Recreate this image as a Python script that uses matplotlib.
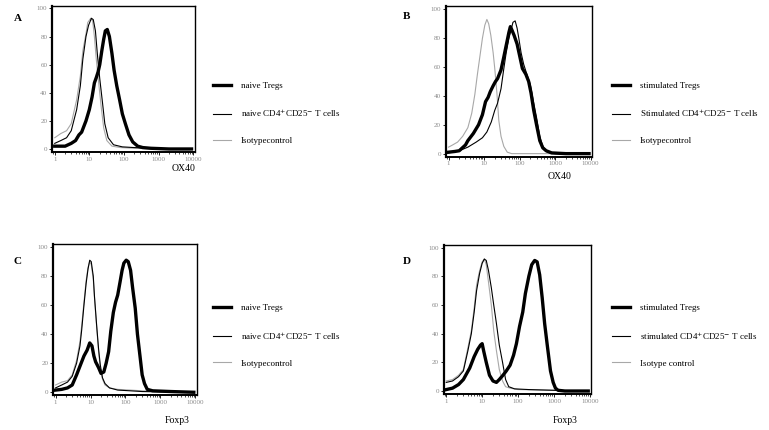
import matplotlib
matplotlib.use("Agg")
import matplotlib.pyplot as plt
import numpy as np

plt.rcParams['font.family'] = ['Liberation Serif', 'DejaVu Serif']

# ---- panel A: OX40, naive cells ----
a_iso_x = [1, 1.5, 2.2, 3, 4.3, 5.5, 6.5, 8, 9, 11, 12.5, 14, 16, 19, 22, 26, 32, 45, 80, 200, 1000, 9000]
a_iso_y = [8, 11, 13, 18, 35, 52, 70, 82, 90, 93, 91, 80, 63, 45, 30, 15, 6, 2, 1, 0.5, 0, 0]
a_cd4_x = [1, 1.5, 2.2, 3, 4.3, 5.5, 6.5, 8, 9.5, 11.5, 13, 15, 17, 20, 24, 28, 35, 50, 90, 200, 1000, 9000]
a_cd4_y = [4, 6, 8, 13, 28, 45, 64, 80, 88, 93, 92, 84, 68, 50, 33, 18, 8, 3, 1.5, 1, 0.3, 0]
a_treg_x = [1, 1.5, 2, 3, 4, 5, 6, 8, 10, 12, 14, 16, 18, 20, 23, 26, 29, 33, 38, 45, 52, 62, 75, 90, 110, 140, 180, 250, 350, 600, 2000, 9000]
a_treg_y = [2, 2, 2, 4, 6, 10, 12, 20, 28, 37, 47, 51, 55, 60, 70, 78, 84, 85, 80, 68, 56, 45, 35, 25, 18, 10, 5, 2, 1, 0.5, 0, 0]

# ---- panel B: OX40, stimulated cells ----
b_iso_x = [1, 1.3, 1.8, 2.5, 3.5, 4.5, 5.5, 6.5, 7.5, 9, 10.5, 12, 13.5, 15.5, 18, 20, 23, 26, 30, 36, 45, 60, 100, 1000, 9000]
b_iso_y = [4.5, 6, 8, 12, 18, 28, 41, 55, 66, 80, 89, 93, 90, 82, 70, 59, 42, 23, 12, 5, 1, 0, 0, 0, 0]
b_treg_x = [1, 1.5, 2, 3, 3.5, 5, 7, 9, 11, 13, 15, 18, 21, 24, 30, 36, 42, 50, 55, 60, 70, 85, 100, 120, 150, 180, 210, 250, 300, 370, 450, 560, 800, 2000, 9000]
b_treg_y = [1, 1.5, 2, 6, 9, 14, 20, 27, 36, 39, 43, 47, 50, 52, 58, 67, 75, 84, 88, 86, 82, 76, 68, 59, 55, 50, 42, 30, 20, 9, 4, 2, 0.5, 0, 0]
b_cd4_x = [1, 2, 3.5, 6, 9, 12, 16, 20, 24, 30, 36, 42, 50, 58, 65, 75, 85, 95, 110, 130, 160, 200, 250, 300, 370, 450, 600, 1000, 9000]
b_cd4_y = [0.5, 2, 4.5, 8, 11, 15, 22, 30, 35, 45, 59, 70, 80, 86, 91, 92, 87, 80, 70, 62, 55, 48, 35, 25, 12, 5, 1, 0, 0]

# ---- panel C: Foxp3, naive cells ----
c_iso_x = [1, 1.5, 2.2, 3, 4, 5, 5.6, 6.5, 7.5, 8.5, 9.5, 10.5, 12, 13, 15, 17, 19, 22, 26, 35, 60, 140, 300, 1000, 9000]
c_iso_y = [5, 7, 8, 12, 22, 35, 46, 62, 77, 86, 90, 88, 78, 65, 45, 28, 17, 9, 5, 3, 2, 1.5, 1, 0.5, 0]
c_cd4_x = [1, 1.5, 2.2, 3, 4, 5, 5.6, 6.5, 7.5, 8.5, 9.5, 10.5, 12, 13, 15, 17, 19, 22, 26, 35, 60, 140, 300, 1000, 9000]
c_cd4_y = [3, 5, 7, 11, 20, 32, 43, 60, 75, 85, 91, 90, 80, 66, 46, 30, 19, 10, 6, 3, 1.5, 1, 0.5, 0.3, 0]
c_treg_x = [1, 1.5, 2.2, 3, 4, 5, 6.5, 8, 9.5, 11, 12.5, 14, 17, 20, 24, 28, 33, 38, 45, 52, 60, 70, 80, 90, 105, 120, 140, 160, 190, 220, 260, 300, 350, 420, 600, 2000, 9000]
c_treg_y = [1.5, 2, 3, 5, 12, 18, 25, 29, 34, 32, 25, 21, 17, 13, 14, 20, 28, 42, 55, 62, 67, 76, 84, 89, 91, 90, 84, 72, 58, 40, 25, 12, 6, 2, 1, 0.5, 0]

# ---- panel D: Foxp3, stimulated cells ----
d_iso_x = [1, 1.5, 2.2, 3, 4, 5, 6, 7, 8.5, 10, 11.5, 13, 15, 18, 21, 25, 30, 37, 45, 60, 100, 1000, 9000]
d_iso_y = [7, 8, 11, 15, 30, 42, 58, 74, 84, 90, 92, 88, 76, 60, 42, 28, 15, 7, 3, 2, 1, 0.5, 0]
d_cd4_x = [1, 1.5, 2.2, 3, 4, 5, 6, 7, 8.5, 10, 11.5, 13, 15, 18, 21, 25, 30, 37, 45, 55, 80, 200, 1000, 9000]
d_cd4_y = [6, 7, 10, 14, 28, 40, 55, 70, 82, 89, 92, 91, 84, 72, 60, 47, 32, 20, 8, 3, 1.5, 1, 0.5, 0]
d_treg_x = [1, 1.5, 2.2, 3, 4.5, 6, 7.5, 9, 10, 11, 13, 16, 20, 25, 30, 38, 47, 60, 75, 90, 110, 135, 160, 200, 240, 290, 340, 400, 470, 550, 650, 800, 950, 1100, 1300, 2000, 9000]
d_treg_y = [1, 2, 4.5, 8, 16, 24, 29, 32, 33, 28, 20, 11, 7, 6, 8, 11, 14, 18, 25, 33, 45, 55, 68, 80, 88, 91, 90, 81, 65, 47, 32, 14, 6, 2, 0.5, 0, 0]

xticks = [1, 10, 100, 1000, 10000]
xtick_labels = ['1', '10', '100', '1000', '10000']
yticks = [0, 20, 40, 60, 80, 100]

panels = [
    dict(letter='A', pos=[0.068, 0.647, 0.185, 0.340], xlabel='OX40', xlab_xy=(0.239, 0.607),
         curves=[(a_iso_x, a_iso_y), (a_cd4_x, a_cd4_y), (a_treg_x, a_treg_y)],
         labels=['naive Tregs', 'naive CD4$^{+}$CD25$^{-}$ T cells', 'Isotypecontrol'],
         leg_xy=(0.277, 0.81), let_xy=(0.018, 0.957)),
    dict(letter='B', pos=[0.580, 0.636, 0.190, 0.349], xlabel='OX40', xlab_xy=(0.727, 0.590),
         curves=[(b_iso_x, b_iso_y), (b_cd4_x, b_cd4_y), (b_treg_x, b_treg_y)],
         labels=['stimulated Tregs', 'Stimulated CD4$^{+}$CD25$^{-}$ T cells', 'Isotypecontrol'],
         leg_xy=(0.796, 0.81), let_xy=(0.524, 0.962)),
    dict(letter='C', pos=[0.069, 0.081, 0.187, 0.351], xlabel='Foxp3', xlab_xy=(0.230, 0.021),
         curves=[(c_iso_x, c_iso_y), (c_cd4_x, c_cd4_y), (c_treg_x, c_treg_y)],
         labels=['naive Tregs', 'naive CD4$^{+}$CD25$^{-}$ T cells', 'Isotypecontrol'],
         leg_xy=(0.277, 0.293), let_xy=(0.018, 0.392)),
    dict(letter='D', pos=[0.577, 0.084, 0.192, 0.347], xlabel='Foxp3', xlab_xy=(0.735, 0.021),
         curves=[(d_iso_x, d_iso_y), (d_cd4_x, d_cd4_y), (d_treg_x, d_treg_y)],
         labels=['stimulated Tregs', 'stimulated CD4$^{+}$CD25$^{-}$ T cells', 'Isotype control'],
         leg_xy=(0.796, 0.293), let_xy=(0.524, 0.392)),
]

fig = plt.figure(figsize=(7.69, 4.30), dpi=100)

for p in panels:
    ax = fig.add_axes(p['pos'])
    (ix, iy), (cx, cy), (tx, ty) = p['curves']
    h_iso, = ax.plot(ix, iy, color='#a8a8a8', lw=0.8)
    h_cd4, = ax.plot(cx, cy, color='black', lw=0.8)
    h_treg, = ax.plot(tx, ty, color='black', lw=2.4)
    ax.set_xscale('log')
    ax.set_xlim(0.85, 11000)
    ax.set_ylim(-2, 102)
    ax.set_xticks(xticks)
    ax.set_xticklabels(xtick_labels)
    ax.set_yticks(yticks)
    ax.tick_params(labelsize=5, labelcolor='#8a8a8a', length=2, width=0.6, pad=1.5)
    ax.tick_params(which='minor', length=1.2, width=0.5)
    for s in ax.spines.values():
        s.set_linewidth(1.0)
    ax.spines['left'].set_linewidth(1.6)
    ax.spines['bottom'].set_linewidth(1.4)
    fig.text(p['xlab_xy'][0], p['xlab_xy'][1], p['xlabel'], fontsize=7, ha='center', va='center')
    fig.text(p['let_xy'][0], p['let_xy'][1], p['letter'], fontsize=8, fontweight='bold', va='center')
    fig.legend([h_treg, h_cd4, h_iso], p['labels'], loc='upper left',
               bbox_to_anchor=p['leg_xy'], frameon=False, fontsize=6.5,
               labelspacing=1.95, handlelength=2.0, handletextpad=1.1,
               borderpad=0, borderaxespad=0)

fig.savefig('out.png', dpi=100)
